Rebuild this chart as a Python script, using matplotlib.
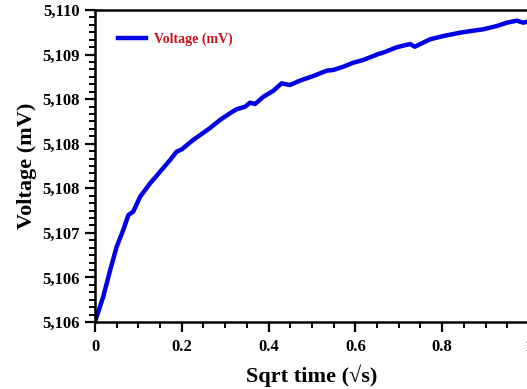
import numpy as np
import matplotlib
matplotlib.use('Agg')
import matplotlib.pyplot as plt

# values
sqrt_time = [0.000, 0.019, 0.035, 0.050, 0.065, 0.077, 0.088, 0.104, 0.127, 0.150,
             0.173, 0.188, 0.200, 0.226, 0.265, 0.288, 0.311, 0.326, 0.346, 0.357,
             0.369, 0.388, 0.411, 0.430, 0.449, 0.472, 0.503, 0.534, 0.549, 0.572,
             0.595, 0.618, 0.653, 0.664, 0.695, 0.726, 0.737, 0.756, 0.772, 0.803,
             0.841, 0.872, 0.895, 0.926, 0.949, 0.972, 0.987, 0.995]
voltage = [5106.004, 5106.324, 5106.667, 5106.965, 5107.179, 5107.372, 5107.414, 5107.606,
           5107.778, 5107.927, 5108.077, 5108.183, 5108.214, 5108.333, 5108.487, 5108.590,
           5108.676, 5108.727, 5108.760, 5108.812, 5108.795, 5108.888, 5108.965, 5109.060,
           5109.038, 5109.094, 5109.154, 5109.222, 5109.231, 5109.273, 5109.324, 5109.359,
           5109.436, 5109.453, 5109.522, 5109.564, 5109.529, 5109.581, 5109.624, 5109.667,
           5109.709, 5109.735, 5109.753, 5109.795, 5109.837, 5109.863, 5109.837, 5109.850]

y_labels = ['5,106', '5,106', '5,107', '5,108', '5,108', '5,108', '5,109', '5,110']
x_labels = ['0', '0.2', '0.4', '0.6', '0.8', '1']

plt.rcParams['font.family'] = ['Liberation Serif', 'DejaVu Serif']
plt.rcParams['font.weight'] = 'bold'

fig = plt.figure(figsize=(5.27, 3.89), dpi=100)
ax = fig.add_axes([95/527, 67/389, 434/527, 312/389])

ax.plot(sqrt_time, voltage, color='#0000e6', lw=3.2, label='Voltage (mV)')

ax.set_xlim(0, 1.0)
ax.set_ylim(5106.0, 5110.0)
ax.set_xticks(np.linspace(0, 1, len(x_labels)))
ax.set_xticklabels(x_labels)
ax.set_xticks(np.arange(0, 1.001, 0.05), minor=True)
ax.set_yticks(np.linspace(5106.0, 5110.0, len(y_labels)))
ax.set_yticklabels(y_labels)
ax.set_yticks(np.linspace(5106.0, 5110.0, 7 * 6 + 1), minor=True)

ax.tick_params(which='major', direction='out', length=7, width=1.6, labelsize=12)
ax.tick_params(axis='x', which='major', pad=5)
ax.tick_params(axis='y', which='major', pad=4)
ax.tick_params(which='minor', direction='out', length=4, width=1.4)
for s in ax.spines.values():
    s.set_linewidth(1.8)

ax.set_xlabel('Sqrt time (\u221as)', fontsize=16, fontweight='bold', labelpad=7)
ax.set_ylabel('Voltage (mV)', fontsize=16, fontweight='bold', labelpad=4)

leg = ax.legend(loc='center left', frameon=False, fontsize=10, handlelength=2.0,
                handletextpad=0.6, bbox_to_anchor=(0.025, 0.905))
for t in leg.get_texts():
    t.set_color('#c8141c')

fig.savefig('out.png', dpi=100)
